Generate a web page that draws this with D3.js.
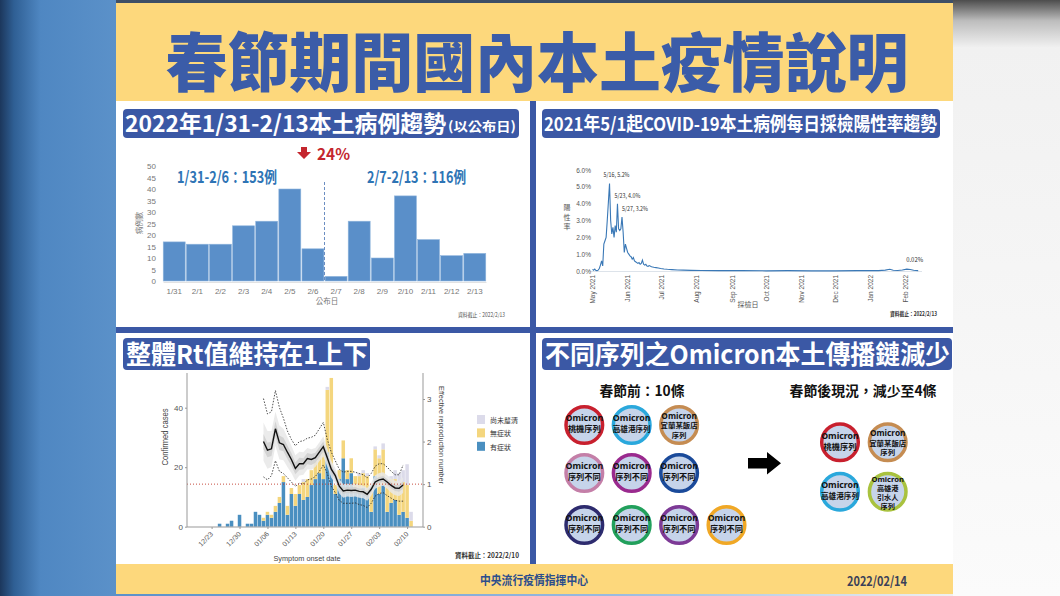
<!DOCTYPE html>
<html><head><meta charset="utf-8">
<script src="https://cdn.jsdelivr.net/npm/d3@7"></script>
<style>
html,body{margin:0;padding:0;background:#fff;overflow:hidden;}
svg{display:block;font-family:"Noto Sans CJK TC","Noto Sans",sans-serif;}
</style>
</head><body>
<svg id="c" width="1060" height="596"></svg>
<script>
// ---------------- DATA ----------------
// Panel 1: daily local cases by announcement date
const caseDates = ["1/31","2/1","2/2","2/3","2/4","2/5","2/6","2/7","2/8","2/9","2/10","2/11","2/12","2/13"];
const caseCounts = [17,16,16,24,26,40,14,2,26,10,37,18,11,12];
const caseYTicks = [0,5,10,15,20,25,30,35,40,45,50];

// Panel 2: daily test positivity (%)
const posDates = ["2021-05-01","2021-05-02","2021-05-03","2021-05-04","2021-05-05","2021-05-06","2021-05-07","2021-05-08","2021-05-09","2021-05-10",
"2021-05-11","2021-05-12","2021-05-13","2021-05-14","2021-05-15","2021-05-16","2021-05-17","2021-05-18","2021-05-19","2021-05-20",
"2021-05-21","2021-05-22","2021-05-23","2021-05-24","2021-05-25","2021-05-26","2021-05-27","2021-05-28","2021-05-29","2021-05-30",
"2021-05-31","2021-06-01","2021-06-02","2021-06-03","2021-06-04","2021-06-05","2021-06-06","2021-06-07","2021-06-08","2021-06-09",
"2021-06-10","2021-06-11","2021-06-12","2021-06-13","2021-06-14","2021-06-15","2021-06-16","2021-06-17","2021-06-18","2021-06-19",
"2021-06-20","2021-06-22","2021-06-24","2021-06-26","2021-06-28","2021-06-30","2021-07-03","2021-07-06","2021-07-10","2021-07-15",
"2021-07-20","2021-07-27","2021-08-05","2021-08-20","2021-09-10","2021-10-01","2021-10-20","2021-11-10","2021-12-01","2021-12-20",
"2022-01-08","2022-01-14","2022-01-18","2022-01-21","2022-01-25","2022-01-29","2022-02-02","2022-02-05","2022-02-08","2022-02-12"];
const posValues = [0.10,0.05,0.12,0.03,0.02,0.05,0.15,0.35,0.60,0.30,
1.60,1.80,2.00,3.00,4.10,5.20,3.00,2.20,2.60,2.00,
2.70,2.30,4.00,2.50,2.40,2.50,3.20,2.30,1.10,1.60,
1.35,1.10,1.00,0.90,0.85,0.70,0.80,0.60,0.55,0.50,
0.45,0.50,0.40,0.45,0.65,0.40,0.35,0.40,0.30,0.28,
0.32,0.25,0.22,0.20,0.18,0.15,0.12,0.10,0.08,0.06,
0.05,0.04,0.03,0.02,0.02,0.01,0.02,0.01,0.01,0.02,
0.02,0.05,0.10,0.04,0.03,0.06,0.11,0.09,0.04,0.02];
const posYTicks = [0,1,2,3,4,5,6];
const posMonthTicks = ["2021-05-01","2021-06-01","2021-07-01","2021-08-01","2021-09-01","2021-10-01","2021-11-01","2021-12-01","2022-01-01","2022-02-01"];
const posAnnotDates = ["2021-05-16","2021-05-23","2021-05-27"];
const posAnnotLabels = ["5/16, 5.2%","5/23, 4.0%","5/27, 3.2%"];
const posLastLabel = "0.02%";

// Panel 3: cases by symptom onset date and Rt
const onsetDates = ["2021-12-25","2021-12-26","2021-12-27","2021-12-28","2021-12-29","2021-12-30","2021-12-31",
"2022-01-01","2022-01-02","2022-01-03","2022-01-04","2022-01-05","2022-01-06","2022-01-07","2022-01-08","2022-01-09","2022-01-10",
"2022-01-11","2022-01-12","2022-01-13","2022-01-14","2022-01-15","2022-01-16","2022-01-17","2022-01-18","2022-01-19","2022-01-20",
"2022-01-21","2022-01-22","2022-01-23","2022-01-24","2022-01-25","2022-01-26","2022-01-27","2022-01-28","2022-01-29","2022-01-30",
"2022-01-31","2022-02-01","2022-02-02","2022-02-03","2022-02-04","2022-02-05","2022-02-06","2022-02-07","2022-02-08","2022-02-09",
"2022-02-10","2022-02-11"];
const symptomatic  = [1,0,1,2,0,4,0, 1,1,5,4,2,4,3,5,8,15, 4,11,7,11,9,10,14,16,18,16, 25,19,11,16,23,16,18,12,12,13, 12,5,17,11,14,5,8,9,4,5, 3,0];
const asymptomatic = [0,0,0,0,0,0,0, 0,0,0,0,1,1,1,2,2,2, 3,2,4,3,6,6,5,6,8,11, 21,31,3,3,6,3,5,5,5,5, 5,7,9,12,12,10,8,7,9,10, 11,2];
const unclear      = [0,0,0,0,0,0,0, 0,0,0,0,0,0,0,0,0,0, 0,0,0,0,1,0,0,0,0,0, 1,0,0,0,0,0,0,0,1,1, 1,0,1,1,2,0,1,3,5,4, 7,3];
const onsetTicks = ["2021-12-23","2021-12-30","2022-01-06","2022-01-13","2022-01-20","2022-01-27","2022-02-03","2022-02-10"];
const rtDates = ["2022-01-05","2022-01-06","2022-01-07","2022-01-08","2022-01-09","2022-01-10","2022-01-11","2022-01-12","2022-01-13","2022-01-14",
"2022-01-15","2022-01-16","2022-01-17","2022-01-18","2022-01-19","2022-01-20","2022-01-21","2022-01-22","2022-01-23","2022-01-24",
"2022-01-25","2022-01-26","2022-01-27","2022-01-28","2022-01-29","2022-01-30","2022-01-31","2022-02-01","2022-02-02","2022-02-03",
"2022-02-04","2022-02-05","2022-02-06","2022-02-07","2022-02-08","2022-02-09"];
const rtMean   = [2.00,1.80,1.83,2.30,1.97,1.93,1.75,1.58,1.37,1.48,1.48,1.60,1.58,1.62,1.75,1.88,1.62,1.35,1.20,0.95,0.84,0.86,0.85,0.86,0.83,0.82,0.76,0.88,1.05,1.10,1.12,1.05,0.97,0.91,0.90,0.98];
const rtDarkHi = [2.18,1.97,2.00,2.48,2.14,2.09,1.91,1.73,1.51,1.62,1.61,1.73,1.71,1.74,1.87,2.00,1.73,1.45,1.29,1.03,0.91,0.93,0.92,0.93,0.90,0.89,0.83,0.95,1.12,1.17,1.19,1.12,1.04,0.98,0.98,1.07];
const rtDarkLo = [1.82,1.63,1.66,2.12,1.80,1.77,1.59,1.43,1.23,1.34,1.35,1.47,1.45,1.50,1.63,1.76,1.51,1.25,1.11,0.87,0.77,0.79,0.78,0.79,0.76,0.75,0.69,0.81,0.98,1.03,1.05,0.98,0.90,0.84,0.82,0.89];
const rtLightHi= [2.45,2.25,2.25,2.70,2.38,2.30,2.10,1.90,1.68,1.76,1.75,1.85,1.82,1.85,1.98,2.12,1.84,1.55,1.38,1.12,1.00,1.01,1.00,1.01,0.98,0.97,0.91,1.03,1.21,1.26,1.28,1.21,1.14,1.08,1.08,1.17];
const rtLightLo= [1.55,1.36,1.40,1.90,1.58,1.56,1.40,1.26,1.08,1.20,1.22,1.35,1.34,1.40,1.54,1.65,1.41,1.15,1.02,0.78,0.68,0.71,0.70,0.71,0.68,0.67,0.61,0.73,0.89,0.94,0.96,0.89,0.80,0.74,0.72,0.79];
const rtDotHi  = [3.01,2.65,2.70,3.20,2.80,2.55,2.25,2.05,1.90,2.00,2.02,2.08,2.10,2.15,2.30,2.45,2.05,1.75,1.55,1.35,1.28,1.30,1.30,1.28,1.25,1.22,1.15,1.25,1.42,1.48,1.48,1.40,1.30,1.22,1.22,1.45];
const rtDotLo  = [1.17,1.10,1.20,1.55,1.30,1.25,1.15,1.05,0.95,1.02,1.00,1.10,1.12,1.18,1.30,1.45,1.25,0.95,0.80,0.62,0.55,0.55,0.55,0.56,0.52,0.50,0.45,0.55,0.72,0.78,0.80,0.73,0.67,0.62,0.60,0.60];
const caseKeys = ["symptomatic","asymptomatic","unclear"];
const caseKeyLabels = ["有症狀","無症狀","尚未釐清"];
const caseKeyColors = ["#4a8fc0","#f4d67e","#dcdbea"];

// Panel 4: transmission chains
const chainsBefore = [["Omicron","桃機序列"],["Omicron","高雄港序列"],["Omicron","宜蘭某飯店","序列"],
  ["Omicron","序列不同"],["Omicron","序列不同"],["Omicron","序列不同"],
  ["Omicron","序列不同"],["Omicron","序列不同"],["Omicron","序列不同"],["Omicron","序列不同"]];
const chainsBeforeColors = ["#c8202e","#2aa8dc","#c58c52","#c47fa8","#9a2a8e","#1a4a9a","#2d2b6e","#22a05c","#7d3a96","#f0a826"];
const chainsBeforeRows = [3,3,4];
const chainsAfter = [["Omicron","桃機序列"],["Omicron","宜蘭某飯店","序列"],["Omicron","高雄港序列"],["Omicron","高雄港","引水人","序列"]];
const chainsAfterColors = ["#c8202e","#c58c52","#2aa8dc","#a9c23f"];
const chainsAfterRows = [2,2];

// ---------------- DRAW ----------------
const svg = d3.select("#c");
const parse = d3.timeParse("%Y-%m-%d");
const BLUE = "#3b58a5";
const defs = svg.append("defs");
const lg = defs.append("linearGradient").attr("id","lbg").attr("x1",0).attr("x2",1).attr("y1",0).attr("y2",0);
[[0,"#1c375c"],[0.12,"#2f5f94"],[0.35,"#4f87c2"],[1,"#5b91c9"]].forEach(s=>lg.append("stop").attr("offset",s[0]).attr("stop-color",s[1]));
const rg = defs.append("linearGradient").attr("id","rbg").attr("x1",0).attr("x2",0).attr("y1",0).attr("y2",1);
[[0,"#4d4d4d"],[0.035,"#bdbdbd"],[0.08,"#f1f1f1"],[1,"#fbfbfb"]].forEach(s=>rg.append("stop").attr("offset",s[0]).attr("stop-color",s[1]));
const bg = defs.append("linearGradient").attr("id","bbg").attr("x1",0).attr("x2",1).attr("y1",0).attr("y2",0);
[[0,"#5b91c9"],[0.6,"#9bbbe0"],[1,"#f0f0f0"]].forEach(s=>bg.append("stop").attr("offset",s[0]).attr("stop-color",s[1]));

svg.append("rect").attr("width",1060).attr("height",596).attr("fill","#fff");
svg.append("rect").attr("x",0).attr("y",0).attr("width",116).attr("height",596).attr("fill","url(#lbg)");
svg.append("rect").attr("x",953).attr("y",0).attr("width",107).attr("height",596).attr("fill","url(#rbg)");
svg.append("rect").attr("x",116).attr("y",0).attr("width",837).attr("height",3).attr("fill","#3e4f66");
svg.append("rect").attr("x",116).attr("y",3).attr("width",837).attr("height",98).attr("fill","#fdd87c");
svg.append("rect").attr("x",116).attr("y",564).attr("width",837).attr("height",30).attr("fill","#fdd87c");
svg.append("rect").attr("x",116).attr("y",594).attr("width",837).attr("height",2).attr("fill","url(#bbg)");
// dividers
svg.append("rect").attr("x",530).attr("y",101).attr("width",6).attr("height",463).attr("fill",BLUE);
svg.append("rect").attr("x",116).attr("y",327).attr("width",837).attr("height",6).attr("fill",BLUE);

function txt(g,x,y,s,opt){
  const t=g.append("text").attr("x",x).attr("y",y).text(s)
    .attr("font-size",opt.size||10).attr("font-weight",opt.weight||"normal")
    .attr("fill",opt.fill||"#333").attr("text-anchor",opt.anchor||"start");
  if(opt.len) t.attr("textLength",opt.len).attr("lengthAdjust","spacingAndGlyphs");
  if(opt.family) t.attr("font-family",opt.family);
  return t;
}
// main title
txt(svg,537,86,"春節期間國內本土疫情說明",{size:64,weight:900,fill:"#3b5ca8",anchor:"middle",len:743});
// footer
txt(svg,534,585,"中央流行疫情指揮中心",{size:12,weight:"bold",fill:"#2b4d8c",anchor:"middle",len:108});
txt(svg,877,585.5,"2022/02/14",{size:13,weight:"bold",fill:"#3a4058",anchor:"middle",len:60});

// section headers
function header(x,y,w,h){ svg.append("rect").attr("x",x).attr("y",y).attr("width",w).attr("height",h).attr("rx",4).attr("fill",BLUE); }
header(123,109,396,29);
txt(svg,125,132,"2022年1/31-2/13本土病例趨勢",{size:23,weight:"bold",fill:"#fff",len:321});
txt(svg,448,131,"(以公布日)",{size:13,weight:"bold",fill:"#fff",len:68});
header(542,109,398,29);
txt(svg,544,131,"2021年5/1起COVID-19本土病例每日採檢陽性率趨勢",{size:19,weight:"bold",fill:"#fff",len:393});
header(123,338,247,32);
txt(svg,126,364,"整體Rt值維持在1上下",{size:26,weight:"bold",fill:"#fff",len:242});
header(542,338,410,32);
txt(svg,545,364,"不同序列之Omicron本土傳播鏈減少",{size:26,weight:"bold",fill:"#fff",len:405});

// ---------- Panel 1 ----------
const p1 = svg.append("g");
const xCase = d3.scaleBand().domain(caseDates).range([163,486]).paddingInner(0.05).paddingOuter(0.01);
const yCase = d3.scaleLinear().domain([0,50]).range([281,166]);
p1.selectAll("rect.cb").data(caseCounts).join("rect").attr("class","cb")
  .attr("x",(d,i)=>xCase(caseDates[i])).attr("y",d=>yCase(d))
  .attr("width",xCase.bandwidth()).attr("height",d=>yCase(0)-yCase(d))
  .attr("fill","#5a8fc9").attr("stroke","#8fb5dd").attr("stroke-width",0.6);
const ya1 = p1.append("g").attr("transform","translate(156,0)")
  .call(d3.axisLeft(yCase).tickValues(caseYTicks).tickSize(0).tickPadding(0));
ya1.select(".domain").remove();
ya1.selectAll("text").attr("font-size",8).attr("fill","#777").attr("font-family","Liberation Sans, sans-serif");
const xa1 = p1.append("g").attr("transform","translate(0,282)")
  .call(d3.axisBottom(xCase).tickSize(0).tickPadding(6));
xa1.select(".domain").attr("stroke","#e2e2e2");
xa1.selectAll("text").attr("font-size",8).attr("fill","#777").attr("font-family","Liberation Sans, sans-serif");
txt(p1,327,304,"公布日",{size:7.5,fill:"#777",anchor:"middle"});
txt(p1,0,0,"病例數",{size:7.5,fill:"#777",anchor:"middle"}).attr("transform","translate(142,223) rotate(-90)");
const sepX = xCase(caseDates[7]) - xCase.step()*xCase.paddingInner()/2;
p1.append("line").attr("x1",sepX).attr("x2",sepX).attr("y1",182).attr("y2",281)
  .attr("stroke","#6b8ec2").attr("stroke-width",1).attr("stroke-dasharray","3,2");
txt(p1,177,183,"1/31-2/6：153例",{size:16,weight:"bold",fill:"#2e74b5",len:100});
txt(p1,367,183,"2/7-2/13：116例",{size:16,weight:"bold",fill:"#2e74b5",len:99});
// red down arrow + 24%
p1.append("path").attr("d","M301,147 h6 v5 h4 l-7,7 l-7,-7 h4 z").attr("fill","#c4262e");
txt(p1,317,160,"24%",{size:16,weight:"bold",fill:"#c4262e",len:33});
txt(p1,458,317,"資料截止：2022/2/13",{size:5.5,fill:"#555",len:47});

// ---------- Panel 2 ----------
const p2 = svg.append("g");
const xPos = d3.scaleTime().domain([parse("2021-05-01"),parse("2022-02-01")]).range([592.5,905.7]);
const yPos = d3.scaleLinear().domain([0,6]).range([271,170]);
p2.append("line").attr("x1",590).attr("x2",922).attr("y1",yPos(0)+0.5).attr("y2",yPos(0)+0.5).attr("stroke","#dde3ea");
const ya2 = p2.append("g").attr("transform","translate(591,0)")
  .call(d3.axisLeft(yPos).tickValues(posYTicks).tickSize(0).tickPadding(0).tickFormat(d=>d.toFixed(1)+"%"));
ya2.select(".domain").remove();
ya2.selectAll("text").attr("font-size",6.5).attr("fill","#555").attr("font-family","Liberation Sans, sans-serif");
const xa2 = p2.append("g").attr("transform","translate(0,272)")
  .call(d3.axisBottom(xPos).tickValues(posMonthTicks.map(parse)).tickSize(0).tickFormat(d3.timeFormat("%b %Y")));
xa2.select(".domain").remove();
xa2.selectAll("text").attr("font-size",6.5).attr("fill","#555").attr("font-family","Liberation Sans, sans-serif")
  .attr("text-anchor","end").attr("dy","0.32em").attr("transform","rotate(-90)").attr("x",-3).attr("y",0);
const posLine = d3.line().x((d,i)=>xPos(parse(posDates[i]))).y(d=>yPos(d));
p2.append("path").datum(posValues).attr("d",posLine).attr("fill","none").attr("stroke","#3a78b6").attr("stroke-width",1.1);
posAnnotDates.forEach((d,i)=>{
  const v = posValues[posDates.indexOf(d)];
  txt(p2,xPos(parse(d))-6+i*3,yPos(v)-6,posAnnotLabels[i],{size:6.5,fill:"#333",len:26});
});
txt(p2,xPos(parse(posDates[posDates.length-1]))-12,262,posLastLabel,{size:6.5,fill:"#333",len:17});
["陽","性","率"].forEach((c,i)=>txt(p2,567,210+i*9.5,c,{size:7,fill:"#555",anchor:"middle"}));
txt(p2,748,307,"採檢日",{size:7,fill:"#555",anchor:"middle"});
txt(p2,890,316,"資料截止：2022/2/13",{size:6,weight:"bold",fill:"#333",len:47});

// ---------- Panel 3 ----------
const p3 = svg.append("g");
const xOn = d3.scaleTime().domain([parse("2021-12-23"),parse("2022-02-10")]).range([211.6,407.1]);
const yCases = d3.scaleLinear().domain([0,40]).range([526.7,407.7]);
const yRt = d3.scaleLinear().domain([0,3]).range([526.7,399]);
const dayW = xOn(parse("2022-01-02"))-xOn(parse("2022-01-01"));
const rows = onsetDates.map((d,i)=>({date:parse(d),symptomatic:symptomatic[i],asymptomatic:asymptomatic[i],unclear:unclear[i]}));
const stack = d3.stack().keys(caseKeys)(rows);
stack.forEach((layer,k)=>{
  p3.selectAll("rect.l"+k).data(layer).join("rect").attr("class","l"+k)
    .attr("x",d=>xOn(d.data.date)-dayW*0.44).attr("width",dayW*0.88)
    .attr("y",d=>yCases(d[1])).attr("height",d=>yCases(d[0])-yCases(d[1]))
    .attr("fill",caseKeyColors[k]);
});
const rtX = (d,i)=>xOn(parse(rtDates[i]));
const area = (lo,hi)=>d3.area().x((d,i)=>rtX(d,i)).y0((d,i)=>yRt(lo[i])).y1((d,i)=>yRt(hi[i]));
p3.append("path").datum(rtMean).attr("d",area(rtLightLo,rtLightHi)).attr("fill","#e8e8e8").attr("opacity",0.85);
p3.append("path").datum(rtMean).attr("d",area(rtDarkLo,rtDarkHi)).attr("fill","#cfcfcf").attr("opacity",0.85);
const ln = arr => d3.line().x((d,i)=>rtX(d,i)).y(d=>yRt(d))(arr);
p3.append("path").attr("d",ln(rtDotHi)).attr("fill","none").attr("stroke","#222").attr("stroke-width",0.8).attr("stroke-dasharray","1.5,1.5");
p3.append("path").attr("d",ln(rtDotLo)).attr("fill","none").attr("stroke","#222").attr("stroke-width",0.8).attr("stroke-dasharray","1.5,1.5");
p3.append("path").attr("d",ln(rtMean)).attr("fill","none").attr("stroke","#111").attr("stroke-width",1.4);
p3.append("line").attr("x1",187).attr("x2",423).attr("y1",yRt(1)).attr("y2",yRt(1))
  .attr("stroke","#c0392b").attr("stroke-width",0.9).attr("stroke-dasharray","1,2");
// axes
const yl3 = p3.append("g").attr("transform","translate(187,0)")
  .call(d3.axisLeft(yCases).tickValues([0,20,40]).tickSize(2).tickPadding(2));
yl3.select(".domain").attr("d","M0,373V527").attr("stroke","#999");
yl3.selectAll(".tick line").attr("stroke","#999");
yl3.selectAll("text").attr("font-size",8).attr("fill","#555").attr("font-family","Liberation Sans, sans-serif");
const yr3 = p3.append("g").attr("transform","translate(423,0)")
  .call(d3.axisRight(yRt).tickValues([0,1,2,3]).tickSize(2).tickPadding(2).tickFormat(d3.format("d")));
yr3.select(".domain").attr("d","M0,373V527").attr("stroke","#999");
yr3.selectAll(".tick line").attr("stroke","#999");
yr3.selectAll("text").attr("font-size",8).attr("fill","#555").attr("font-family","Liberation Sans, sans-serif");
const xb3 = p3.append("g").attr("transform","translate(0,527)")
  .call(d3.axisBottom(xOn).tickValues(onsetTicks.map(parse)).tickSize(2).tickFormat(d3.timeFormat("%m/%d")));
xb3.select(".domain").attr("d","M187,0H423").attr("stroke","#999");
xb3.selectAll(".tick line").attr("stroke","#999");
xb3.selectAll("text").attr("font-size",7).attr("fill","#555").attr("font-family","Liberation Sans, sans-serif")
  .attr("text-anchor","end").attr("dy","0.3em").attr("y",0).attr("x",0).attr("transform","translate(0,6) rotate(-45)");
txt(p3,0,0,"Confirmed cases",{size:8.5,fill:"#444",anchor:"middle",family:"Liberation Sans, sans-serif",len:57}).attr("transform","translate(168,437) rotate(-90)");
txt(p3,0,0,"Effective reproduction number",{size:8,fill:"#444",anchor:"middle",family:"Liberation Sans, sans-serif",len:98}).attr("transform","translate(439,435) rotate(90)");
txt(p3,307,561,"Symptom onset date",{size:8,fill:"#444",anchor:"middle",family:"Liberation Sans, sans-serif",len:67});
txt(p3,455,558,"資料截止：2022/2/10",{size:7,weight:"bold",fill:"#333",len:64});
// legend (top-to-bottom: unclear, asymptomatic, symptomatic)
[2,1,0].forEach((k,j)=>{
  p3.append("rect").attr("x",477).attr("y",415+j*13.4).attr("width",8).attr("height",9).attr("fill",caseKeyColors[k]);
  txt(p3,490,423+j*13.4,caseKeyLabels[k],{size:7,fill:"#333"});
});

// ---------- Panel 4 ----------
const p4 = svg.append("g");
txt(p4,642,396,"春節前：10條",{size:14,weight:"bold",fill:"#111",anchor:"middle",len:85});
txt(p4,863,396,"春節後現況，減少至4條",{size:14,weight:"bold",fill:"#111",anchor:"middle",len:147});
function chain(cx,cy,lines,color){
  p4.append("circle").attr("cx",cx).attr("cy",cy).attr("r",18.3).attr("fill","#c6d4ea").attr("stroke",color).attr("stroke-width",3.5);
  const n=lines.length;
  const gap = n===2 ? 11 : (n===3 ? 9.6 : 9);
  const latinSize = n===2 ? 8.8 : (n===3 ? 8.3 : 7.6);
  const cjkSize = n===2 ? 8.2 : (n===3 ? 7.4 : 7.2);
  const start = -(n-1)*gap/2 + (n===2 ? -1.2 : 0.4);
  const t = p4.append("text").attr("text-anchor","middle").attr("font-weight","bold").attr("fill","#111");
  lines.forEach((s,i)=>{
    const isLatin = i===0;
    const sp = t.append("tspan").attr("x",cx).attr("y",cy+start+i*gap+3).text(s)
      .attr("font-size", isLatin ? latinSize : (s.length>=5 && n===2 ? 7.6 : cjkSize));
    if(isLatin) sp.attr("font-family","'Noto Sans',sans-serif");
  });
}
const colX = d3.scaleLinear().domain([0,1]).range([584.3,631.7]);
const rowY = d3.scaleOrdinal().domain([0,1,2]).range([425,473,525]);
let idx=0;
chainsBeforeRows.forEach((cnt,r)=>{ for(let c=0;c<cnt;c++){ chain(colX(c),rowY(r),chainsBefore[idx],chainsBeforeColors[idx]); idx++; } });
const colX2 = d3.scaleLinear().domain([0,1]).range([840,887.7]);
const rowY2 = d3.scaleLinear().domain([0,1]).range([442.3,491.7]);
idx=0;
chainsAfterRows.forEach((cnt,r)=>{ for(let c=0;c<cnt;c++){ chain(colX2(c),rowY2(r),chainsAfter[idx],chainsAfterColors[idx]); idx++; } });
// arrow
p4.append("path").attr("d","M748,458 H767 V452 L781,463.3 L767,474.6 V468.6 H748 Z").attr("fill","#000");
</script>
</body></html>
